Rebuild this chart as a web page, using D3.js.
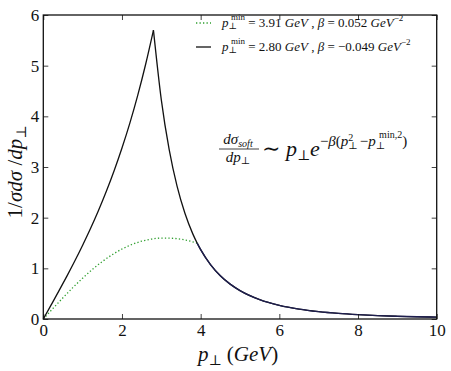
<!DOCTYPE html>
<html>
<head>
<meta charset="utf-8">
<script src="https://cdn.jsdelivr.net/npm/d3@7"></script>
<style>
  body { margin: 0; background: #fff; }
  svg text { font-family: "Liberation Serif", "DejaVu Serif", serif; fill: #111; }
  .math { font-style: italic; }
</style>
</head>
<body>
<svg id="chart" width="451" height="371"></svg>
<script>
// rising part of the solid curve (p_min = 2.80, beta = -0.049)
var blackRiseP = [0, 0.2, 0.4, 0.6, 0.8, 1.0, 1.2, 1.4, 1.6, 1.8, 2.0, 2.2, 2.4, 2.6, 2.8];
var blackRiseY = [0, 0.278, 0.559, 0.847, 1.145, 1.457, 1.786, 2.137, 2.516, 2.926, 3.375, 3.866, 4.413, 5.023, 5.70];

// rising part of the dotted curve (p_min = 3.91, beta = 0.052)
var greenRiseP = [0, 0.25, 0.5, 0.75, 1.0, 1.25, 1.5, 1.75, 2.0, 2.25, 2.5, 2.75, 3.0, 3.25, 3.5, 3.75, 3.91];
var greenRiseY = [0, 0.212, 0.419, 0.619, 0.806, 0.980, 1.134, 1.268, 1.381, 1.470, 1.535, 1.577, 1.597, 1.594, 1.574, 1.533, 1.50];

// common falling tail
var tailP = [2.8, 3.0, 3.2, 3.4, 3.6, 3.8, 3.91, 4.0, 4.25, 4.5, 4.75, 5.0, 5.5, 6.0, 6.5, 7.0, 7.5, 8.0, 8.5, 9.0, 9.5, 10];
var tailY = [5.70, 4.325, 3.341, 2.621, 2.086, 1.680, 1.50, 1.369, 1.074, 0.854, 0.688, 0.561, 0.383, 0.270, 0.196, 0.146, 0.111, 0.086, 0.067, 0.053, 0.043, 0.038];

var xTicks = [0, 2, 4, 6, 8, 10];
var yTicks = [0, 1, 2, 3, 4, 5, 6];

var svg = d3.select("#chart");
var plotL = 43.3, plotR = 436.7, plotT = 15, plotB = 319;

var x = d3.scaleLinear().domain([0, 10]).range([plotL, plotR]);
var y = d3.scaleLinear().domain([0, 6]).range([plotB, plotT]);

function pts(ps, ys) {
  return ps.map(function(p, i) { return [p, ys[i]]; });
}

var line = d3.line()
  .x(function(d) { return x(d[0]); })
  .y(function(d) { return y(d[1]); })
  .curve(d3.curveMonotoneX);

var tail = pts(tailP, tailY);
var tailAfter = tail.filter(function(d) { return d[0] >= 3.91; });

// dotted curve
svg.append("path")
  .attr("d", line(pts(greenRiseP, greenRiseY)))
  .attr("fill", "none")
  .attr("stroke", "#2f9f2f")
  .attr("stroke-width", 1.3)
  .attr("stroke-dasharray", "1.3,2.2");

// solid curve
svg.append("path")
  .attr("d", line(pts(blackRiseP, blackRiseY)))
  .attr("fill", "none")
  .attr("stroke", "#111")
  .attr("stroke-width", 1.3);

svg.append("path")
  .attr("d", line(tail))
  .attr("fill", "none")
  .attr("stroke", "#111")
  .attr("stroke-width", 1.3);

// where both curves overlap the line looks navy
svg.append("path")
  .attr("d", line(tailAfter))
  .attr("fill", "none")
  .attr("stroke", "#1e1e4e")
  .attr("stroke-width", 1.4);

// axes with inward ticks
var fmt = d3.format("d");
var gx = svg.append("g").attr("transform", "translate(0," + plotB + ")")
  .call(d3.axisBottom(x).tickValues(xTicks).tickFormat(fmt).tickSizeInner(-5).tickSizeOuter(0).tickPadding(4));
var gxTop = svg.append("g").attr("transform", "translate(0," + plotT + ")")
  .call(d3.axisTop(x).tickValues(xTicks).tickSizeInner(-5).tickSizeOuter(0).tickFormat(""));
var gy = svg.append("g").attr("transform", "translate(" + plotL + ",0)")
  .call(d3.axisLeft(y).tickValues(yTicks).tickFormat(fmt).tickSizeInner(-5).tickSizeOuter(0).tickPadding(4));
var gyRight = svg.append("g").attr("transform", "translate(" + plotR + ",0)")
  .call(d3.axisRight(y).tickValues(yTicks).tickSizeInner(-5).tickSizeOuter(0).tickFormat(""));

[gx, gxTop, gy, gyRight].forEach(function(g) {
  g.select(".domain").remove();
  g.selectAll(".tick line").attr("stroke", "#111").attr("stroke-width", 0.8);
  g.selectAll(".tick text").attr("font-size", 17).attr("font-family", "Liberation Serif").attr("fill", "#333");
});
gx.selectAll(".tick text").attr("dy", "0.75em");
gy.selectAll(".tick text").attr("dy", "0.33em");

svg.append("rect")
  .attr("x", plotL).attr("y", plotT)
  .attr("width", plotR - plotL).attr("height", plotB - plotT)
  .attr("fill", "none").attr("stroke", "#111").attr("stroke-width", 1.3);

// axis titles
var xt = svg.append("text").attr("x", 238).attr("y", 361).attr("text-anchor", "middle").attr("font-size", 21);
xt.append("tspan").attr("class", "math").text("p");
xt.append("tspan").attr("font-size", 14).attr("dy", 4).text("⊥");
xt.append("tspan").attr("dy", -4).text(" (");
xt.append("tspan").attr("class", "math").text("GeV");
xt.append("tspan").text(")");

var yt = svg.append("text")
  .attr("transform", "translate(22,172) rotate(-90)")
  .attr("text-anchor", "middle").attr("font-size", 21);
yt.append("tspan").text("1/");
yt.append("tspan").attr("class", "math").text("σdσ");
yt.append("tspan").text(" /");
yt.append("tspan").attr("class", "math").text("dp");
yt.append("tspan").attr("font-size", 14).attr("dy", 4).text("⊥");

// legend
var legendRows = [
  { pmin: "3.91", beta: "0.052", dash: "1.3,2.2", color: "#2f9f2f" },
  { pmin: "2.80", beta: "−0.049", dash: null, color: "#111" }
];
legendRows.forEach(function(r, i) {
  var ly = 23 + i * 24;
  var l = svg.append("line")
    .attr("x1", 196).attr("x2", 211).attr("y1", ly).attr("y2", ly)
    .attr("stroke", r.color).attr("stroke-width", 1.3);
  if (r.dash) l.attr("stroke-dasharray", r.dash);
  var t = svg.append("text").attr("x", 222).attr("y", ly + 4).attr("font-size", 13);
  t.append("tspan").attr("class", "math").text("p");
  t.append("tspan").attr("font-size", 9).attr("dy", 2).text("⊥");
  t.append("tspan").attr("font-size", 9).attr("dx", -6).attr("dy", -9).text("min");
  t.append("tspan").attr("dy", 7).text(" = " + r.pmin + " ");
  t.append("tspan").attr("class", "math").text("GeV");
  t.append("tspan").text(" , ");
  t.append("tspan").attr("class", "math").text("β");
  t.append("tspan").text(" = " + r.beta + " ");
  t.append("tspan").attr("class", "math").text("GeV");
  t.append("tspan").attr("font-size", 9).attr("dy", -6).text("−2");
});

// formula annotation
var fx = 219;
var num = svg.append("text").attr("x", fx + 19).attr("y", 144).attr("text-anchor", "middle").attr("font-size", 15);
num.append("tspan").attr("class", "math").text("dσ");
num.append("tspan").attr("class", "math").attr("font-size", 10).attr("dy", 3).text("soft");
svg.append("line").attr("x1", fx).attr("x2", fx + 40).attr("y1", 149).attr("y2", 149)
  .attr("stroke", "#111").attr("stroke-width", 0.8);
var den = svg.append("text").attr("x", fx + 19).attr("y", 162).attr("text-anchor", "middle").attr("font-size", 15);
den.append("tspan").attr("class", "math").text("dp");
den.append("tspan").attr("font-size", 10).attr("dy", 2).text("⊥");

var f = svg.append("text").attr("x", fx + 43).attr("y", 156).attr("font-size", 22);
f.append("tspan").text("∼ ");
f.append("tspan").attr("class", "math").text("p");
f.append("tspan").attr("font-size", 14).attr("dy", 4).text("⊥");
f.append("tspan").attr("class", "math").attr("dy", -4).text("e");
f.append("tspan").attr("font-size", 15).attr("dy", -10).text("−");
f.append("tspan").attr("font-size", 15).attr("class", "math").text("β");
f.append("tspan").attr("font-size", 15).text("(");
f.append("tspan").attr("font-size", 15).attr("class", "math").text("p");
f.append("tspan").attr("font-size", 10).attr("dy", -5).text("2");
f.append("tspan").attr("font-size", 10).attr("dx", -5).attr("dy", 8).text("⊥");
f.append("tspan").attr("font-size", 15).attr("dx", 2).attr("dy", -3).text("−");
f.append("tspan").attr("font-size", 15).attr("class", "math").text("p");
f.append("tspan").attr("font-size", 10).attr("dy", 3).text("⊥");
f.append("tspan").attr("font-size", 10).attr("dx", -6).attr("dy", -11).text("min,2");
f.append("tspan").attr("font-size", 15).attr("dy", 8).text(")");
</script>
</body>
</html>
